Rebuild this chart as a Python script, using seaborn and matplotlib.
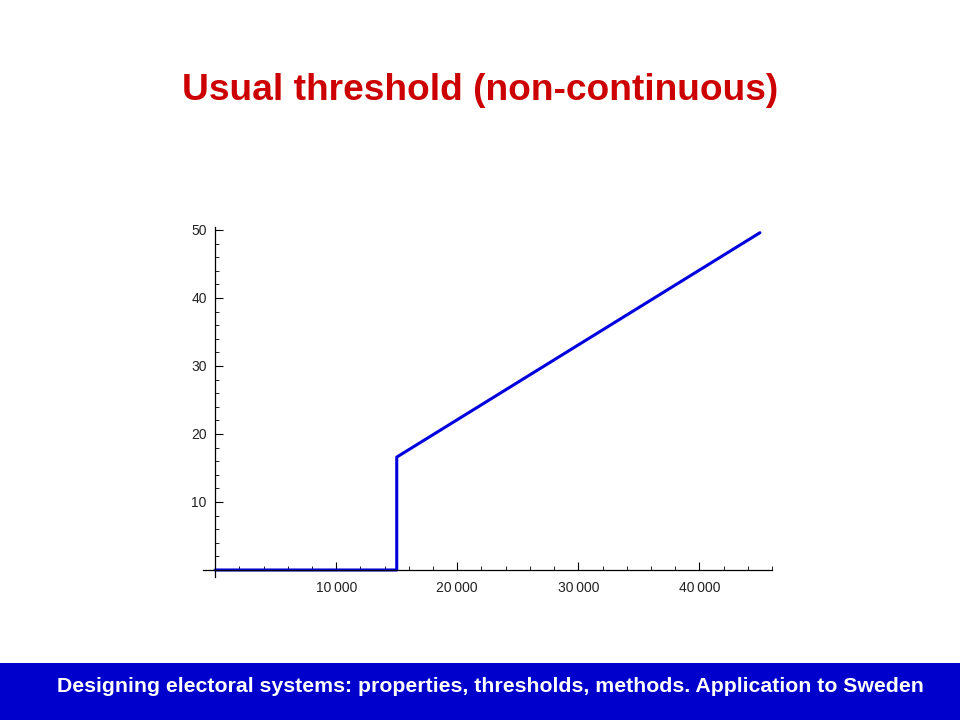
import matplotlib
matplotlib.use('Agg')
import matplotlib.pyplot as plt
import seaborn as sns
import pandas as pd
from matplotlib.ticker import MultipleLocator, FixedLocator
from matplotlib.patches import Rectangle

# 데이터: 문턱값 이전엔 0, 이후엔 선형
votes = [0, 15000, 15000, 45000]
seats = [0, 0, 16.6, 49.6]
x_ticks = [10000, 20000, 30000, 40000]
x_labels = ['10\u2009000', '20\u2009000', '30\u2009000', '40\u2009000']
y_ticks = [10, 20, 30, 40, 50]
y_labels = ['10', '20', '30', '40', '50']

sns.set_style('white')
plt.rcParams['font.family'] = ['Liberation Sans', 'DejaVu Sans']

df = pd.DataFrame({'votes': votes, 'seats': seats})

fig = plt.figure(figsize=(9.6, 7.2), dpi=100)
ax = fig.add_axes([0.2115, 0.1989, 0.5927, 0.4864])

sns.lineplot(data=df, x='votes', y='seats', estimator=None, sort=False,
             color='#0000DD', linewidth=2.2, ax=ax)

ax.set_xlim(-1000, 46000)
ax.set_ylim(-1, 50.5)
ax.spines['left'].set_position(('data', 0))
ax.spines['bottom'].set_position(('data', 0))
ax.spines['right'].set_visible(False)
ax.spines['top'].set_visible(False)
for s in ['left', 'bottom']:
    ax.spines[s].set_color('black')
    ax.spines[s].set_linewidth(0.9)

ax.xaxis.set_major_locator(FixedLocator(x_ticks))
ax.set_xticklabels(x_labels)
ax.xaxis.set_minor_locator(MultipleLocator(2000))
ax.yaxis.set_major_locator(FixedLocator(y_ticks))
ax.set_yticklabels(y_labels)
ax.yaxis.set_minor_locator(MultipleLocator(2))
ax.tick_params(which='major', direction='in', length=6, width=0.8, color='black',
               labelsize=10, labelcolor='#222222')
ax.tick_params(axis='x', which='major', pad=8)
ax.tick_params(axis='y', which='major', pad=6)
ax.tick_params(which='minor', direction='in', length=3, width=0.6, color='black')
ax.tick_params(axis='x', which='both', bottom=True, top=False)
ax.tick_params(axis='y', which='both', left=True, right=False)
ax.set_xlabel('')
ax.set_ylabel('')

fig.text(0.5, 1 - 91 / 720, 'Usual threshold (non-continuous)', ha='center', va='center',
         color='#CC0000', fontsize=26.7, fontweight='bold')

fig.patches.append(Rectangle((0, 0), 1, 57 / 720, transform=fig.transFigure,
                             facecolor='#0000CC', edgecolor='none', zorder=0))
fig.text(0.511, 1 - 686 / 720, 'Designing electoral systems: properties, thresholds, methods. Application to Sweden',
         ha='center', va='center', color='white', fontsize=15.3, fontweight='bold')

fig.savefig('out.png', dpi=100)
